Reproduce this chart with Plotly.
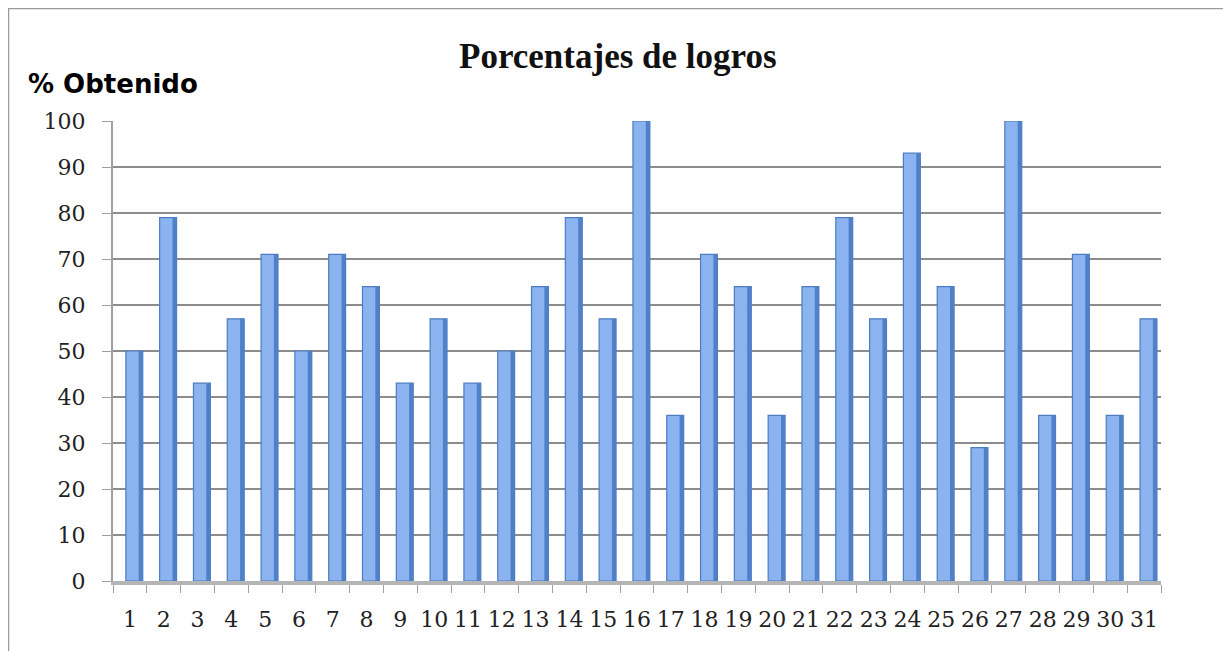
import plotly.graph_objects as go

categories = [str(i) for i in range(1, 32)]
values = [50, 79, 43, 57, 71, 50, 71, 64, 43, 57, 43, 50, 64, 79, 57, 100,
          36, 71, 64, 36, 64, 79, 57, 93, 64, 29, 100, 36, 71, 36, 57]
y_ticks = [0, 10, 20, 30, 40, 50, 60, 70, 80, 90, 100]

OFF = 8  # page body margin
W, H = 1231 - OFF, 651 - OFF
# plot area in reference-screen pixels
X0, X1, Y0, Y1 = 113, 1161, 121, 581
L, R = X0 - OFF, W - (X1 - OFF)
T, B = Y0 - OFF, H - (Y1 - OFF)
pw, ph = W - L - R, H - T - B

def px(x):
    return (x - OFF - L) / pw

def py(y):
    return (H - B - (y - OFF)) / ph

fig = go.Figure()
fig.add_trace(go.Bar(
    x=categories, y=values, width=0.5, offset=-0.12,
    marker=dict(color="#8ab3ef", line=dict(color="#4d7cc2", width=1.2)),
    showlegend=False,
))
# darker side face of each bar
fig.add_trace(go.Bar(
    x=categories, y=values, width=0.12, offset=0.26,
    marker=dict(color="#4f80c8", line=dict(width=0)),
    showlegend=False,
))

fig.update_layout(
    width=W, height=H,
    margin=dict(l=L, r=R, t=T, b=B),
    paper_bgcolor="white", plot_bgcolor="white",
    barmode="overlay",
    xaxis=dict(
        type="category", showgrid=False, tickson="boundaries",
        showline=True, linecolor="#b5b5b5", linewidth=4,
        ticks="outside", ticklen=8, tickcolor="#a0a0a0",
        tickangle=0, ticklabelstandoff=16,
        tickfont=dict(family="DejaVu Serif", size=22, color="#222"),
    ),
    yaxis=dict(
        range=[0, 100], tickvals=y_ticks,
        showgrid=True, gridcolor="#8c8c8c", gridwidth=2,
        showline=True, linecolor="#a0a0a0", linewidth=2,
        ticks="outside", ticklen=9, tickcolor="#a0a0a0",
        ticklabelstandoff=12,
        tickfont=dict(family="DejaVu Serif", size=22, color="#222"),
        zeroline=False,
    ),
    shapes=[
        dict(type="rect", xref="paper", yref="paper",
             x0=px(8.5), x1=px(1229), y0=py(665), y1=py(8.5),
             line=dict(color="#9a9a9a", width=1.5), fillcolor="rgba(0,0,0,0)",
             layer="below"),
    ],
    annotations=[
        dict(text="<b>Porcentajes de logros</b>", xref="paper", yref="paper",
             x=px(618), y=py(56), xanchor="center", yanchor="middle",
             showarrow=False,
             font=dict(family="Liberation Serif", size=35, color="#111")),
        dict(text="<b>% Obtenido</b>", xref="paper", yref="paper",
             x=px(26), y=py(84), xanchor="left", yanchor="middle",
             showarrow=False,
             font=dict(family="DejaVu Sans", size=26, color="#000")),
    ],
)

fig.write_html("out.html")
